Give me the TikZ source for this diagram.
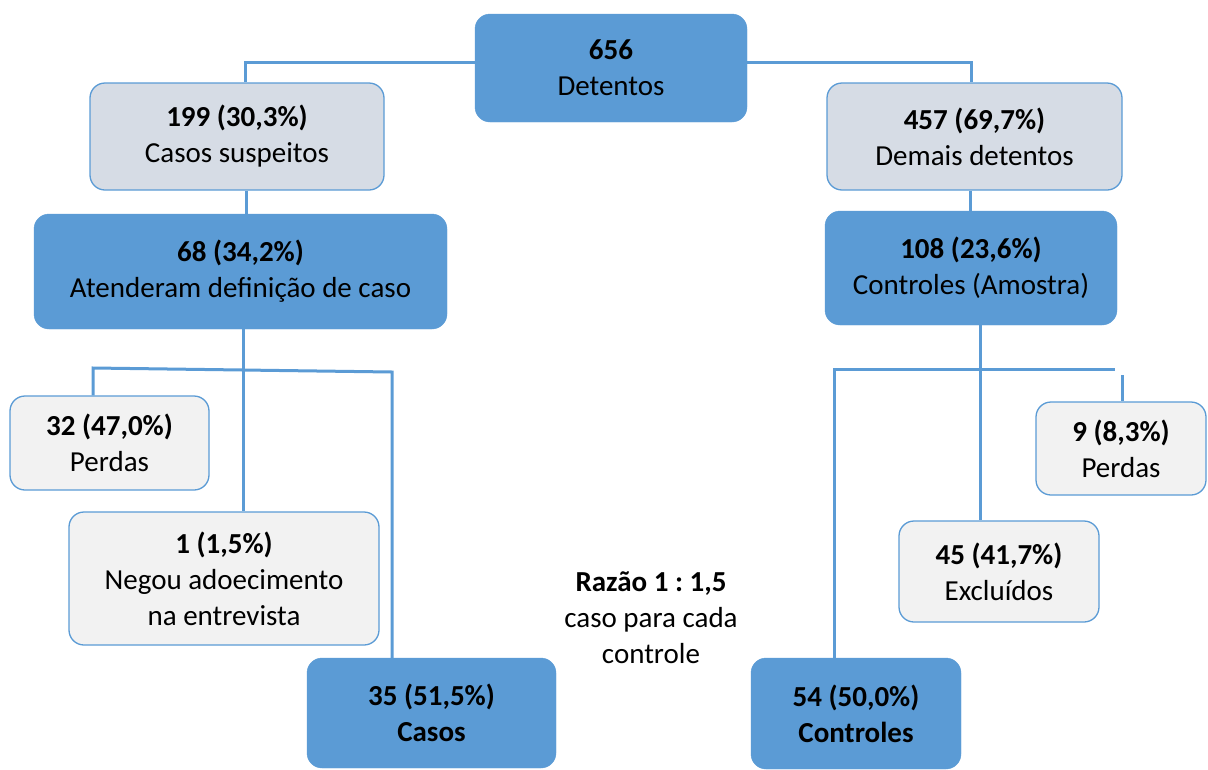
\documentclass[tikz,border=0pt]{standalone}
\usepackage{fontspec}
\setmainfont{Carlito}
\definecolor{bl}{HTML}{5B9BD5}
\definecolor{lg}{HTML}{D6DCE5}
\definecolor{pg}{HTML}{F2F2F2}
\frenchspacing
\begin{document}
\begin{tikzpicture}[x=1pt,y=-1pt,
  box/.style={rounded corners=15pt, align=center, inner sep=0pt, font=\fontsize{29}{36}\selectfont},
  dark/.style={box, fill=bl, draw=bl},
  light/.style={box, fill=lg, draw=bl, line width=1.3pt},
  pale/.style={box, fill=pg, draw=bl, line width=1.3pt},
  conn/.style={draw=bl, line width=3pt}]
\useasboundingbox (0,0) rectangle (1208,769);
\node[dark, minimum width=272pt, minimum height=108pt] (det) at (611,68) {\textbf{656}\\Detentos};
\node[light, minimum width=294pt, minimum height=107pt] (cs) at (237,136.5) {\textbf{199 (30,3\%)}\\Casos suspeitos};
\node[light, minimum width=295pt, minimum height=107pt] (dd) at (974.5,136.5) {\textbf{457 (69,7\%)}\\Demais detentos};
\node[dark, minimum width=413pt, minimum height=115pt] (atd) at (240.5,271.5) {\textbf{68 (34,2\%)}\\Atenderam definição de caso};
\node[dark, minimum width=292pt, minimum height=114pt] (ctl) at (971,268) {\textbf{108 (23,6\%)}\\Controles (Amostra)};
\node[pale, minimum width=199pt, minimum height=94pt] (p1) at (109.5,443) {\textbf{32 (47,0\%)}\\Perdas};
\node[pale, minimum width=310pt, minimum height=133pt] (neg) at (224,578.5) {\textbf{1 (1,5\%)}\\Negou adoecimento\\na entrevista};
\node[dark, minimum width=249pt, minimum height=110pt] (cas) at (431.5,713) {\textbf{35 (51,5\%)}\\\textbf{Casos}};
\node[pale, minimum width=170pt, minimum height=93pt] (p2) at (1121,448.5) {\textbf{9 (8,3\%)}\\Perdas};
\node[pale, minimum width=200pt, minimum height=101pt] (exc) at (999,571.5) {\textbf{45 (41,7\%)}\\Excluídos};
\node[dark, minimum width=210pt, minimum height=111pt] (ctr) at (856,713.5) {\textbf{54 (50,0\%)}\\\textbf{Controles}};
\node[align=center, inner sep=0pt, font=\fontsize{29}{36}\selectfont] (raz) at (651,618) {\textbf{Razão 1 : 1,5}\\caso para cada\\controle};
% connectors
\coordinate (j1) at (245,62);
\coordinate (j2) at (971,62);
\draw[conn] (det.west |- j1) -- (j1) -- (j1 |- cs.north);
\draw[conn] (det.east |- j2) -- (j2) -- (j2 |- dd.north);
\coordinate (v1) at (246,0);
\draw[conn] (v1 |- cs.south) -- (v1 |- atd.north);
\coordinate (v2) at (970,0);
\draw[conn] (v2 |- dd.south) -- (v2 |- ctl.north);
\coordinate (v3) at (243,0);
\draw[conn] (v3 |- atd.south) -- (v3 |- neg.north);
\coordinate (h1l) at (93,368);
\coordinate (h1r) at (392,372);
\draw[conn] (h1l |- p1.north) -- (h1l) -- (h1r) -- (h1r |- cas.north);
\coordinate (v4) at (980,0);
\draw[conn] (v4 |- ctl.south) -- (v4 |- exc.north);
\coordinate (h2l) at (834,369);
\coordinate (h2r) at (1115,369);
\draw[conn] (h2l |- ctr.north) -- (h2l) -- (h2r);
\coordinate (v5) at (1122,375);
\draw[conn] (v5) -- (v5 |- p2.north);
\end{tikzpicture}
\end{document}
